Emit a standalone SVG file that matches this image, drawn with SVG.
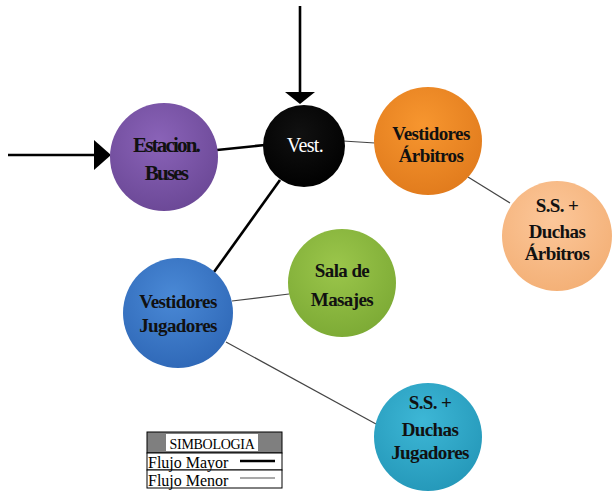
<svg xmlns="http://www.w3.org/2000/svg" width="613" height="491" viewBox="0 0 613 491">
<defs>
<style>
.lbl{font-family:"Liberation Serif","DejaVu Serif",serif;font-weight:bold;font-size:19px;fill:#111;text-anchor:middle;letter-spacing:-0.6px}
.wht{fill:#fff;font-weight:normal}
.major{stroke:#000;stroke-width:2.6;fill:none}
.minor{stroke:#444;stroke-width:1.2;fill:none}
.leg{font-family:"Liberation Serif","DejaVu Serif",serif;font-size:16px;fill:#000}
</style>
<radialGradient id="gPurple" cx="0.45" cy="0.35" r="0.7"><stop offset="0" stop-color="#8A63B8"/><stop offset="1" stop-color="#6A4795"/></radialGradient>
<radialGradient id="gBlack" cx="0.45" cy="0.35" r="0.7"><stop offset="0" stop-color="#111"/><stop offset="1" stop-color="#000"/></radialGradient>
<radialGradient id="gOrange" cx="0.45" cy="0.35" r="0.7"><stop offset="0" stop-color="#F7962F"/><stop offset="1" stop-color="#E07A1C"/></radialGradient>
<radialGradient id="gPeach" cx="0.45" cy="0.35" r="0.7"><stop offset="0" stop-color="#FCC79A"/><stop offset="1" stop-color="#F3AF75"/></radialGradient>
<radialGradient id="gBlue" cx="0.45" cy="0.35" r="0.7"><stop offset="0" stop-color="#4A89D6"/><stop offset="1" stop-color="#2E67B6"/></radialGradient>
<radialGradient id="gGreen" cx="0.45" cy="0.35" r="0.7"><stop offset="0" stop-color="#9BC64B"/><stop offset="1" stop-color="#7BA934"/></radialGradient>
<radialGradient id="gCyan" cx="0.45" cy="0.35" r="0.7"><stop offset="0" stop-color="#3DB7D6"/><stop offset="1" stop-color="#2497B8"/></radialGradient>
</defs>
<rect width="613" height="491" fill="#fff"/>
<g id="connectors">
<line class="major" x1="8" y1="155" x2="95" y2="155"/>
<polygon points="94,140 111,155 94,170" fill="#000"/>
<line class="major" x1="300" y1="6" x2="300" y2="93"/>
<polygon points="285,92 315,92 300,104" fill="#000"/>
<line class="major" x1="217" y1="150" x2="265" y2="145"/>
<line class="major" x1="280" y1="180" x2="214" y2="272"/>
<line class="minor" x1="343" y1="141" x2="375" y2="143"/>
<line class="minor" x1="468" y1="177" x2="510" y2="203"/>
<line class="minor" x1="232" y1="301" x2="289" y2="294"/>
<line class="minor" x1="226" y1="342" x2="376" y2="424"/>
</g>
<g id="node-estacion">
<circle cx="164" cy="157" r="54" fill="url(#gPurple)"/>
<text class="lbl" x="166" y="152" style="font-size:21px;letter-spacing:-1.8px">Estacion.</text>
<text class="lbl" x="166" y="180" style="font-size:21px;letter-spacing:-1.8px">Buses</text>
</g>
<g id="node-vest">
<circle cx="304" cy="146" r="41" fill="url(#gBlack)"/>
<text class="lbl wht" x="305" y="152" style="font-size:20px">Vest.</text>
</g>
<g id="node-vest-arbitros">
<circle cx="428" cy="141" r="54" fill="url(#gOrange)"/>
<text class="lbl" x="431" y="140">Vestidores</text>
<text class="lbl" x="431" y="162">Árbitros</text>
</g>
<g id="node-ss-arbitros">
<circle cx="557" cy="236" r="55" fill="url(#gPeach)"/>
<text class="lbl" x="557" y="212">S.S. +</text>
<text class="lbl" x="557" y="238">Duchas</text>
<text class="lbl" x="557" y="260">Árbitros</text>
</g>
<g id="node-vest-jugadores">
<circle cx="178" cy="313" r="55" fill="url(#gBlue)"/>
<text class="lbl" x="178" y="308">Vestidores</text>
<text class="lbl" x="178" y="332">Jugadores</text>
</g>
<g id="node-masajes">
<circle cx="342" cy="283" r="54" fill="url(#gGreen)"/>
<text class="lbl" x="342" y="277">Sala de</text>
<text class="lbl" x="342" y="306">Masajes</text>
</g>
<g id="node-ss-jugadores">
<circle cx="428" cy="437" r="54" fill="url(#gCyan)"/>
<text class="lbl" x="430" y="409">S.S. +</text>
<text class="lbl" x="430" y="436">Duchas</text>
<text class="lbl" x="430" y="459">Jugadores</text>
</g>
<g id="legend">
<rect x="147" y="432" width="135" height="21" fill="#7f7f7f" stroke="#000" stroke-width="1"/>
<rect x="166" y="434" width="92" height="17" fill="#fff"/>
<text class="leg" x="212" y="449" text-anchor="middle" style="font-size:14px;letter-spacing:-0.3px">SIMBOLOGIA</text>
<rect x="147" y="453" width="135" height="17" fill="#fff" stroke="#000" stroke-width="1"/>
<rect x="147" y="470" width="135" height="18" fill="#fff" stroke="#000" stroke-width="1"/>
<text class="leg" x="148" y="468">Flujo Mayor</text>
<text class="leg" x="148" y="486">Flujo Menor</text>
<line x1="240" y1="461" x2="275" y2="461" stroke="#000" stroke-width="2.5"/>
<line x1="240" y1="478" x2="275" y2="478" stroke="#555" stroke-width="1.2"/>
</g>
</svg>
